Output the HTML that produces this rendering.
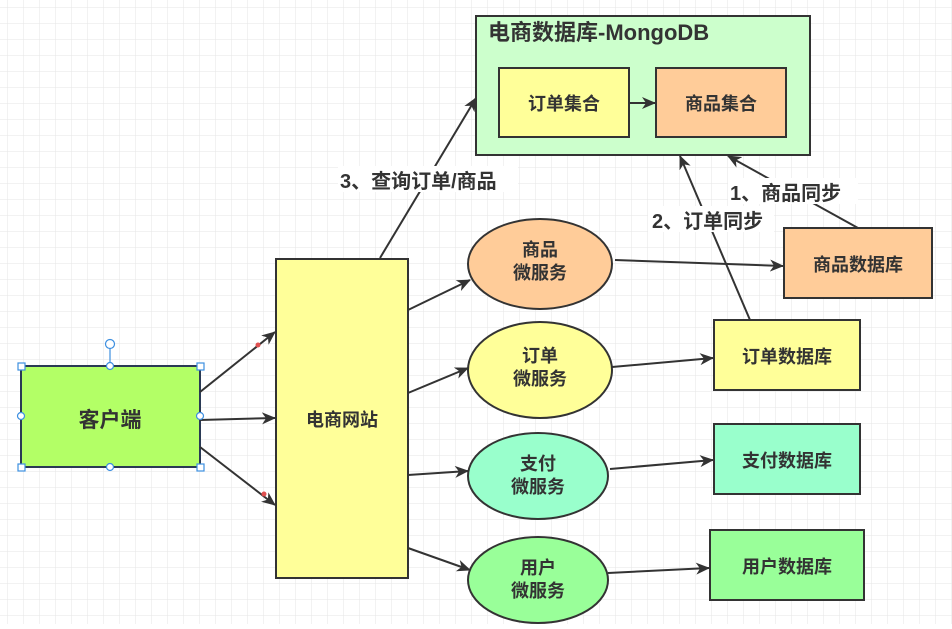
<!DOCTYPE html>
<html><head><meta charset="utf-8"><style>
body{margin:0;background:#fff}
svg text{font-family:"Liberation Sans","Noto Sans CJK SC",sans-serif;font-weight:bold;fill:#333}
</style></head><body>
<svg width="952" height="624" xmlns="http://www.w3.org/2000/svg">
<defs>
<pattern id="g" width="16" height="16" patternUnits="userSpaceOnUse" x="7" y="7">
<path d="M0 0H16M0 0V16" stroke="#e6e6e6" stroke-width="1" fill="none"/></pattern>
<marker id="a" markerWidth="14" markerHeight="12" refX="13" refY="6" orient="auto" markerUnits="userSpaceOnUse"><path d="M0 0L14 6L0 12L4 6Z" fill="#333"/></marker>
</defs>
<rect width="952" height="624" fill="url(#g)"/>
<g stroke="#333" stroke-width="2">
<rect x="476" y="16" width="334" height="139" fill="#ccffcc"/>
<rect x="499" y="68" width="130" height="69" fill="#ffff99"/>
<rect x="656" y="68" width="130" height="69" fill="#ffcc99"/>
<rect x="276" y="259" width="132" height="319" fill="#ffff99"/>
<rect x="21" y="366" width="179" height="101" fill="#b3ff66" stroke="#2a3a55"/>
<ellipse cx="540" cy="264" rx="72" ry="45" fill="#ffcc99"/>
<ellipse cx="540" cy="370" rx="72" ry="48" fill="#ffff99"/>
<ellipse cx="538" cy="476" rx="70" ry="43" fill="#99ffcc"/>
<ellipse cx="538" cy="580" rx="70" ry="43" fill="#99ff99"/>
<rect x="784" y="228" width="148" height="70" fill="#ffcc99"/>
<rect x="714" y="320" width="146" height="70" fill="#ffff99"/>
<rect x="714" y="424" width="146" height="70" fill="#99ffcc"/>
<rect x="710" y="530" width="154" height="70" fill="#99ff99"/>
</g>
<g stroke="#333" stroke-width="2" marker-end="url(#a)">
<line x1="200" y1="392" x2="275" y2="332"/>
<line x1="200" y1="420" x2="275" y2="418"/>
<line x1="200" y1="447" x2="275" y2="505"/>
<line x1="408" y1="310" x2="470" y2="280"/>
<line x1="408" y1="393" x2="468" y2="368"/>
<line x1="408" y1="475" x2="468" y2="471"/>
<line x1="408" y1="548" x2="470" y2="570"/>
<line x1="615" y1="260" x2="783" y2="266"/>
<line x1="612" y1="367" x2="713" y2="358"/>
<line x1="610" y1="469" x2="713" y2="460"/>
<line x1="608" y1="573" x2="709" y2="568"/>
<line x1="380" y1="258" x2="476" y2="98"/>
<line x1="750" y1="320" x2="680" y2="156"/>
<line x1="858" y1="228" x2="728" y2="156"/>
<line x1="629" y1="103" x2="655" y2="103"/>
</g>
<circle cx="258" cy="345" r="2.5" fill="#e05050"/><circle cx="264" cy="494" r="2.5" fill="#e05050"/>
<g fill="#fff" stroke="#3d8fe0" stroke-width="1.2">
<line x1="110" y1="348" x2="110" y2="366"/>
<circle cx="110" cy="344" r="4.5"/>
<rect x="18" y="363" width="7" height="7"/><rect x="197" y="363" width="7" height="7"/>
<rect x="18" y="464" width="7" height="7"/><rect x="197" y="464" width="7" height="7"/>
<circle cx="110" cy="366" r="3.5"/><circle cx="110" cy="467" r="3.5"/>
<circle cx="21" cy="416" r="3.5"/><circle cx="200" cy="416" r="3.5"/>
</g>
<rect x="728" y="178" width="130" height="26" fill="#fff"/>
<rect x="648" y="206" width="126" height="26" fill="#fff"/>
<rect x="338" y="166" width="180" height="26" fill="#fff"/>
<text x="488" y="40" font-size="22">电商数据库-MongoDB</text>
<g font-size="18" text-anchor="middle">
<text x="564" y="110">订单集合</text>
<text x="721" y="110">商品集合</text>
<text x="342" y="426">电商网站</text>
<text x="110" y="427" font-size="21">客户端</text>
<text x="540" y="256">商品</text><text x="540" y="279">微服务</text>
<text x="540" y="362">订单</text><text x="540" y="385">微服务</text>
<text x="538" y="470">支付</text><text x="538" y="493">微服务</text>
<text x="538" y="574">用户</text><text x="538" y="597">微服务</text>
<text x="858" y="271">商品数据库</text>
<text x="787" y="363">订单数据库</text>
<text x="787" y="467">支付数据库</text>
<text x="787" y="573">用户数据库</text>
</g>
<g font-size="20">
<text x="340" y="188">3、查询订单/商品</text>
<text x="652" y="228">2、订单同步</text>
<text x="730" y="200">1、商品同步</text>
</g>
</svg>
</body></html>
